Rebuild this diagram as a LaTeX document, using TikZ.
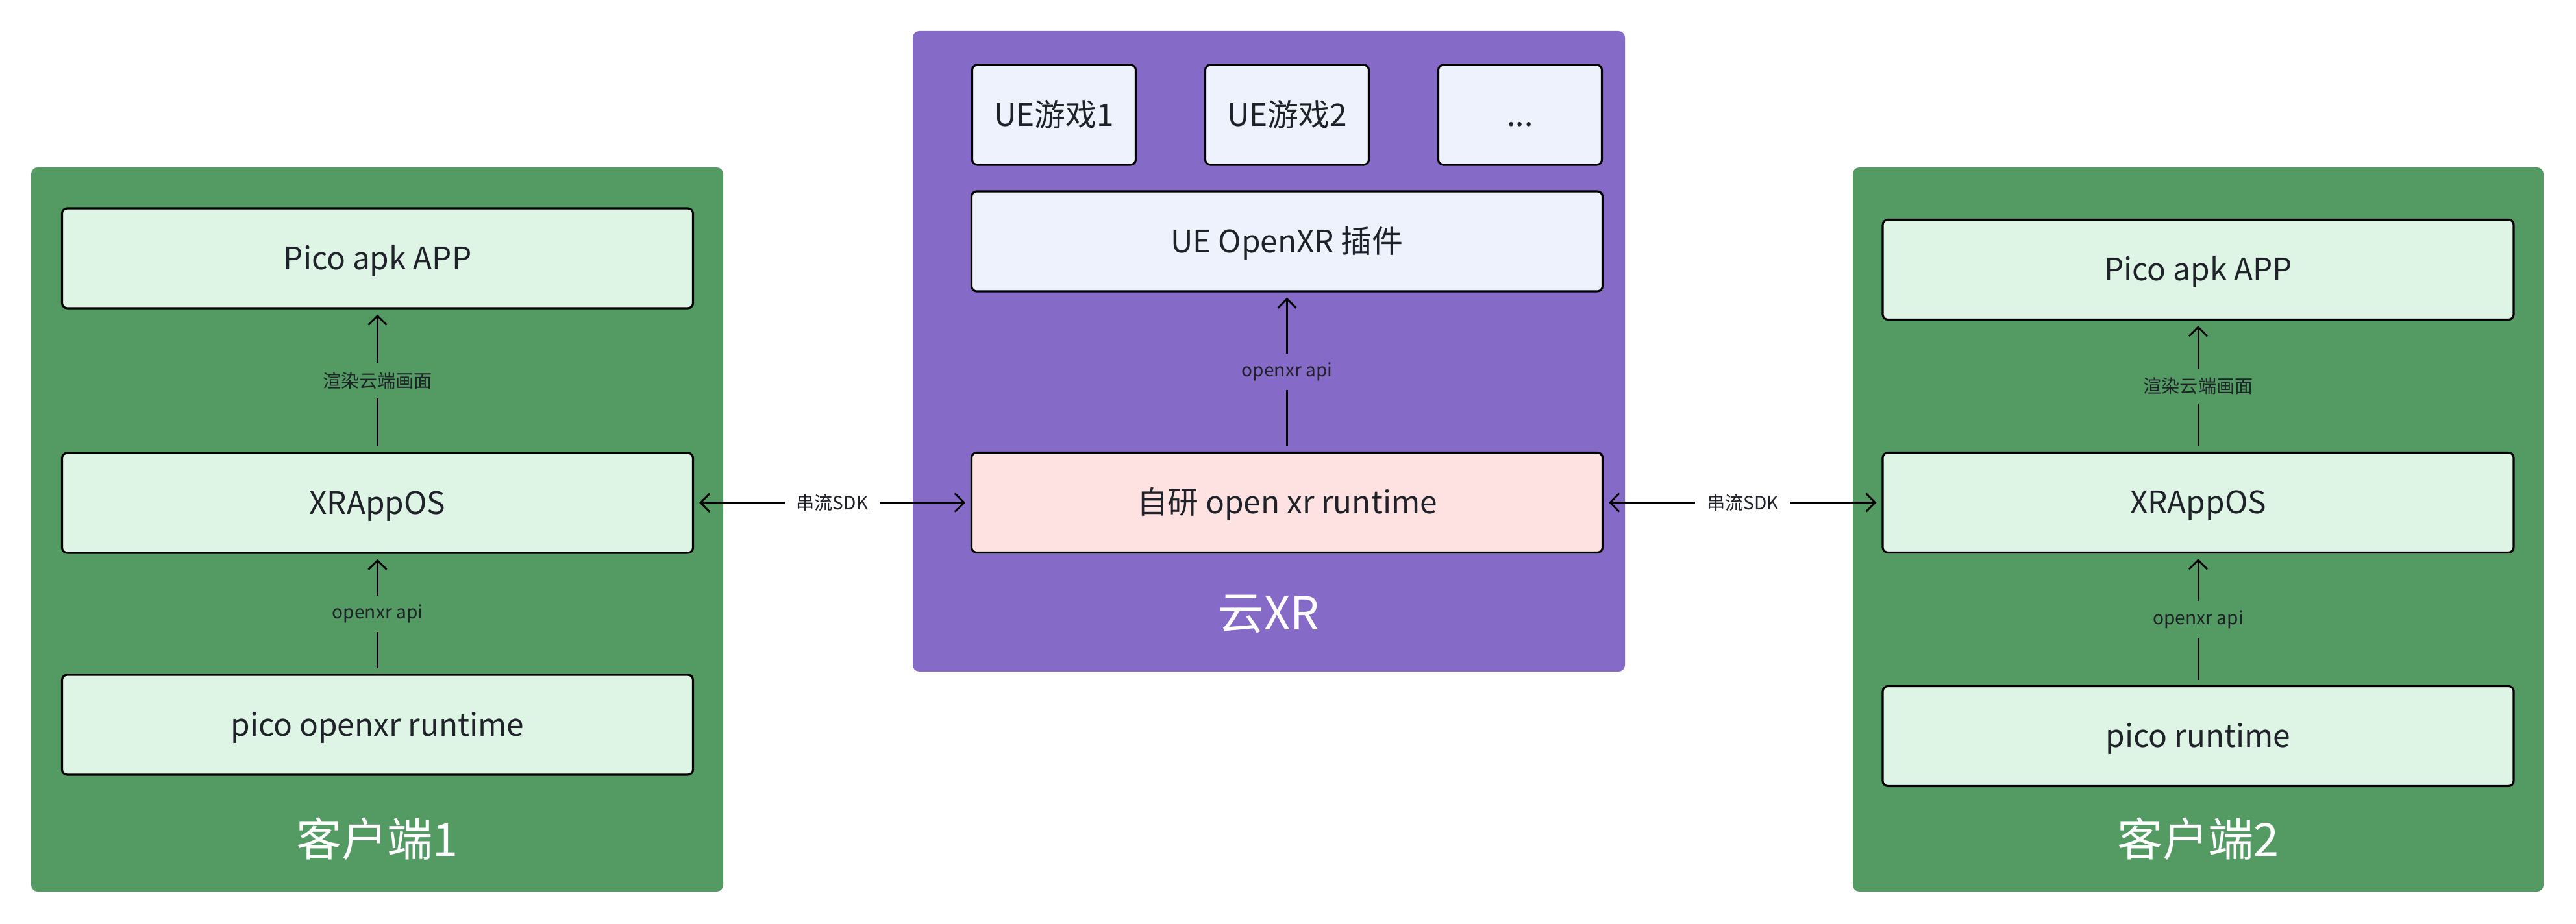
\documentclass[tikz,border=0pt]{standalone}
\usepackage{fontspec}
\setmainfont{Noto Sans CJK SC}
\usepackage{tikz}
\usetikzlibrary{shapes, arrows.meta, positioning}
\definecolor{clientgreen}{HTML}{539B63}
\definecolor{cloudpurple}{HTML}{866AC8}
\definecolor{boxgreen}{HTML}{DEF4E5}
\definecolor{boxblue}{HTML}{EEF2FC}
\definecolor{boxpink}{HTML}{FEE2E2}
\definecolor{inkdark}{HTML}{1F2329}
\tikzstyle{group} = [rectangle, rounded corners=0.1cm, inner sep=0pt]
\tikzstyle{block} = [draw=black, line width=0.9pt, rectangle, rounded corners=0.08cm, minimum width=9.72cm, minimum height=1.54cm, text=inkdark, text height=1.1em, text depth=0.12em, font=\fontsize{13.6}{16}\selectfont]
\tikzstyle{game} = [block, minimum width=2.52cm]
\tikzstyle{title} = [text=white, font=\fontsize{20}{24}\selectfont]
\tikzstyle{tag} = [text=inkdark, font=\fontsize{8}{10}\selectfont, inner xsep=5pt, inner ysep=4pt]
\tikzstyle{link} = [->, line width=0.8pt, shorten >=0.08cm, shorten <=0.08cm]

\begin{document}
\begin{tikzpicture}[>={Straight Barb[length=4pt,width=8pt]}]
    \path [use as bounding box, fill=white] (0,0) rectangle (39.68,-14.24);
    % groups
    \node [group, fill=clientgreen, minimum width=10.66cm, minimum height=11.16cm] (client1) at (5.81,-8.16) {};
    \node [group, fill=cloudpurple, minimum width=10.97cm, minimum height=9.87cm] (cloud) at (19.545,-5.415) {};
    \node [group, fill=clientgreen, minimum width=10.64cm, minimum height=11.16cm] (client2) at (33.86,-8.16) {};
    \node [title] (name1) at (5.81,-12.93) {客户端1};
    \node [title] (namecloud) at (19.545,-9.47) {云XR};
    \node [title] (name2) at (33.86,-12.93) {客户端2};

    % client 1
    \node [block, fill=boxgreen] (app1) at (5.815,-3.98) {Pico apk APP};
    \node [block, fill=boxgreen, below of=app1, node distance=3.77cm] (os1) {XRAppOS};
    \node [block, fill=boxgreen, below of=os1, node distance=3.42cm] (rt1) {pico openxr runtime};

    % cloud
    \node [game, fill=boxblue] (game1) at (16.235,-1.77) {UE游戏1};
    \node [game, fill=boxblue, right of=game1, node distance=3.59cm] (game2) {UE游戏2};
    \node [game, fill=boxblue, right of=game2, node distance=3.59cm] (more) {...};
    \node [block, fill=boxblue, below of=game2, node distance=1.95cm] (plugin) {UE OpenXR 插件};
    \node [block, fill=boxpink, below of=plugin, node distance=4.025cm] (xrrt) {自研 open xr runtime};

    % client 2
    \node [block, fill=boxgreen] (app2) at (33.86,-4.155) {Pico apk APP};
    \node [block, fill=boxgreen, below of=app2, node distance=3.59cm] (os2) {XRAppOS};
    \node [block, fill=boxgreen, below of=os2, node distance=3.6cm] (rt2) {pico runtime};

    \draw [link] (rt1) -- node [tag, fill=clientgreen] {openxr api} (os1);
    \draw [link] (os1) -- node [tag, fill=clientgreen] {渲染云端画面} (app1);
    \draw [link] (xrrt) -- node [tag, fill=cloudpurple] {openxr api} (plugin);
    \draw [link] (rt2) -- node [tag, fill=clientgreen] {openxr api} (os2);
    \draw [link] (os2) -- node [tag, fill=clientgreen] {渲染云端画面} (app2);
    \draw [link, <->] (os1) -- node [tag, fill=white] {串流SDK} (xrrt);
    \draw [link, <->] (xrrt) -- node [tag, fill=white] {串流SDK} (os2);
\end{tikzpicture}
\end{document}
